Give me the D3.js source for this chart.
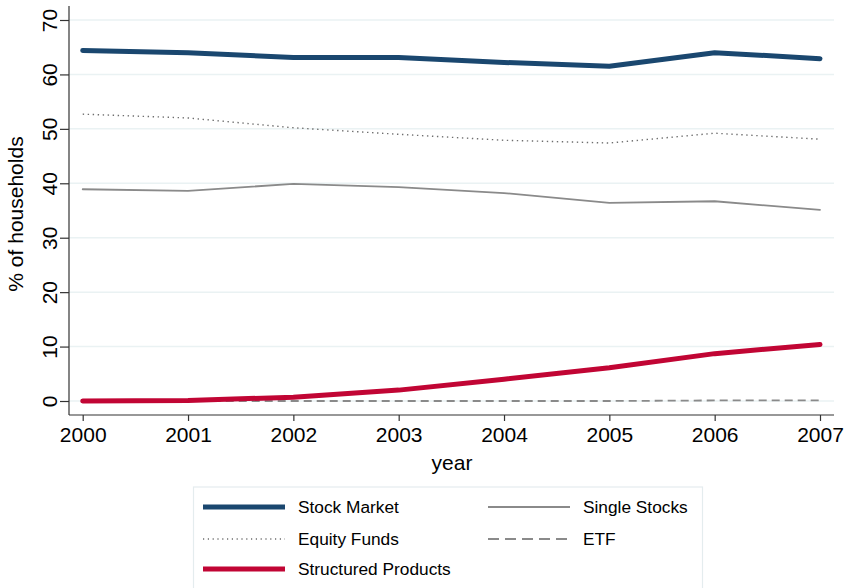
<!DOCTYPE html>
<html><head><meta charset="utf-8">
<script src="https://cdn.jsdelivr.net/npm/d3@7"></script>
<style>body{margin:0;background:#fff}svg{display:block;font-family:"Liberation Sans",Arial,sans-serif}</style>
</head><body><svg id="c" width="846" height="588"></svg>
<script>
const years = [2000,2001,2002,2003,2004,2005,2006,2007];
const stockMarket = [64.4,64.0,63.1,63.1,62.2,61.5,64.0,62.9];
const equityFunds = [52.7,52.0,50.2,49.0,47.9,47.4,49.2,48.1];
const singleStocks = [38.9,38.6,39.9,39.3,38.2,36.4,36.7,35.1];
const structuredProducts = [0.0,0.1,0.7,2.0,4.0,6.1,8.7,10.4];
const etf = [0.0,0.0,0.0,0.0,0.0,0.0,0.1,0.1];
const yTicks = [0,10,20,30,40,50,60,70];

(function(){
const series = [
  {name:"Stock Market", values:stockMarket, color:"#1a476f", w:5, dash:null, ldash:null},
  {name:"Equity Funds", values:equityFunds, color:"#6e6e6e", w:1.4, dash:"1.4,3.6", ldash:"1.2,3.6"},
  {name:"Single Stocks", values:singleStocks, color:"#8a8a8a", w:1.8, dash:null, ldash:null},
  {name:"ETF", values:etf, color:"#8a8a8a", w:1.8, dash:"8,5", ldash:"11,6"},
  {name:"Structured Products", values:structuredProducts, color:"#c10534", w:5, dash:null, ldash:null}
];

const svg = d3.select("#c");
const x = d3.scaleLinear().domain([2000,2007]).range([82.7,820]);
const y = d3.scaleLinear().domain([0,70]).range([401,20]);
const pL = 69, pR = 834, pT = 6, pB = 415;

// gridlines
svg.append("g").selectAll("line").data(yTicks).join("line")
  .attr("x1",pL).attr("x2",pR).attr("y1",d=>y(d)).attr("y2",d=>y(d))
  .attr("stroke","#eaf2f3").attr("stroke-width",1.5);

// y axis
const yAx = svg.append("g").attr("transform",`translate(${pL},0)`)
  .call(d3.axisLeft(y).tickValues(yTicks).tickSize(9).tickPadding(8));
yAx.select(".domain").attr("d",`M0,${pT}V${pB}`).attr("stroke","#333").attr("stroke-width",1.2);
yAx.selectAll(".tick line").attr("stroke","#333").attr("stroke-width",1.2);
yAx.selectAll(".tick text").attr("font-size",21).attr("fill","#000")
  .attr("font-family","Liberation Sans, Arial, sans-serif")
  .attr("text-anchor","middle").attr("x",0).attr("y",0)
  .attr("transform","translate(-19,0) rotate(-90)").attr("dy","0.35em");

// x axis
const xAx = svg.append("g").attr("transform",`translate(0,${pB})`)
  .call(d3.axisBottom(x).tickValues(years).tickFormat(d3.format("d")).tickSize(6).tickPadding(6));
xAx.select(".domain").attr("d",`M${pL},0H${pR}`).attr("stroke","#333").attr("stroke-width",1.2);
xAx.selectAll(".tick line").attr("stroke","#333").attr("stroke-width",1.2);
xAx.selectAll(".tick text").attr("font-size",21).attr("fill","#000")
  .attr("font-family","Liberation Sans, Arial, sans-serif");

// axis titles
svg.append("text").attr("x",452).attr("y",470).attr("text-anchor","middle")
  .attr("font-size",21).text("year");
svg.append("text").attr("transform","translate(23,214) rotate(-90)").attr("text-anchor","middle")
  .attr("font-size",21).text("% of households");

// lines
const line = d3.line().x((d,i)=>x(years[i])).y(d=>y(d));
const drawOrder = [series[2],series[1],series[3],series[4],series[0]];
svg.append("g").selectAll("path").data(drawOrder).join("path")
  .attr("d",d=>line(d.values)).attr("fill","none")
  .attr("stroke",d=>d.color).attr("stroke-width",d=>d.w)
  .attr("stroke-dasharray",d=>d.dash).attr("stroke-linecap",d=>d.dash?"butt":"round")
  .attr("stroke-linejoin","round");

// legend
const lg = svg.append("g");
lg.append("rect").attr("x",193.5).attr("y",487).attr("width",509).attr("height",110)
  .attr("fill","#fff").attr("stroke","#e4ecee").attr("stroke-width",1.2);
const legendItems = [
  {s:series[0], col:0,row:0},{s:series[2], col:1,row:0},
  {s:series[1], col:0,row:1},{s:series[3], col:1,row:1},
  {s:series[4], col:0,row:2}
];
const colX = [[203,285,298],[488,570,583]];
const rowY = [507,539,569];
legendItems.forEach(it=>{
  const [x1,x2,tx] = colX[it.col], yy = rowY[it.row];
  lg.append("line").attr("x1",x1).attr("x2",x2).attr("y1",yy).attr("y2",yy)
    .attr("stroke",it.s.color).attr("stroke-width",it.s.w).attr("stroke-dasharray",it.s.ldash);
  lg.append("text").attr("x",tx).attr("y",yy).attr("dy","0.35em").attr("font-size",17.3).text(it.s.name);
});
})();
</script></body></html>
